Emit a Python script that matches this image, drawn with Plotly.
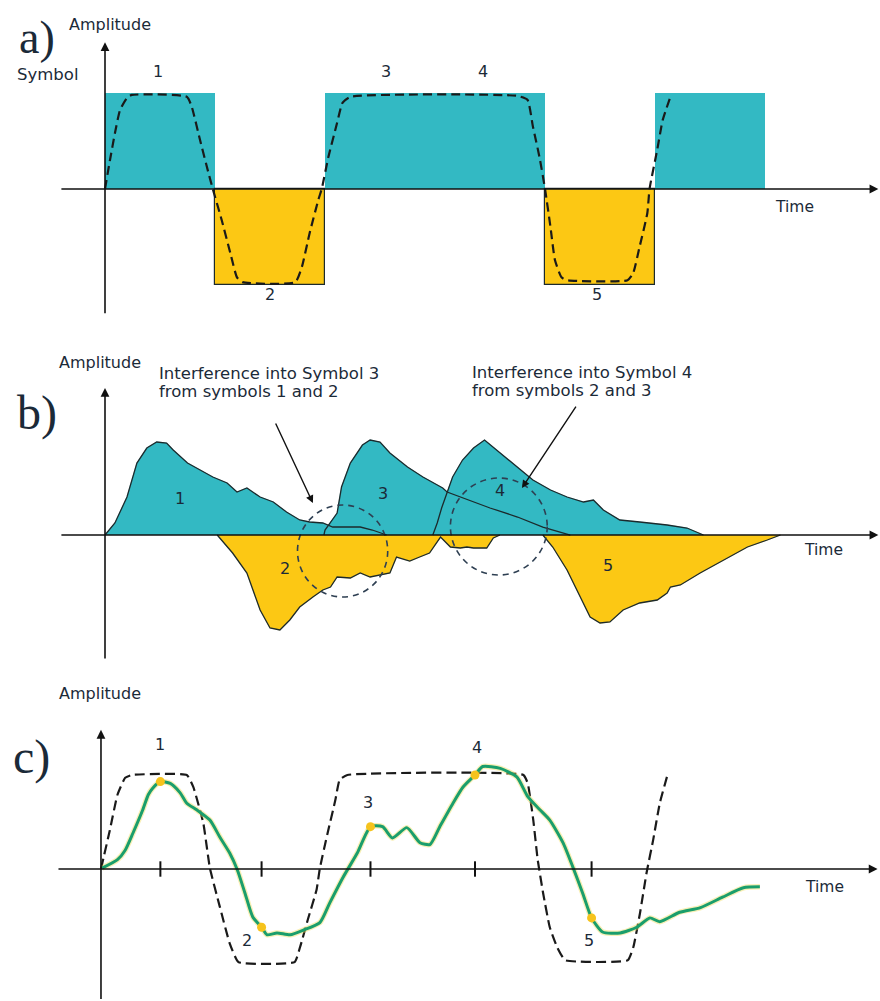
import plotly.graph_objects as go

# ---------------- data ----------------
# a) transmitted symbols (one per symbol period)
symbol_t = [0.5, 1.5, 2.5, 3.5, 4.5, 5.5]
symbol_val = [1, -1, 1, 1, -1, 1]

# a) band-limited pulse train (dashed)
pulse_a_t = [0, 0.045, 0.09, 0.136, 0.2, 0.245, 0.745, 0.79, 0.864, 0.94, 0.98,
             1.06, 1.14, 1.2, 1.25, 1.73, 1.79, 1.86, 1.94, 1.97, 2.03, 2.11, 2.16, 2.23,
             3.75, 3.84, 3.89, 3.95, 4.0, 4.05, 4.09, 4.15, 4.2, 4.75, 4.8, 4.86, 4.93,
             4.95, 5.02, 5.07, 5.14]
pulse_a_y = [0, 0.30, 0.58, 0.82, 0.95, 0.98, 0.96, 0.85, 0.51, 0.17, 0,
             -0.32, -0.67, -0.92, -0.97, -0.97, -0.81, -0.46, -0.11, 0, 0.33, 0.69, 0.9, 0.96,
             0.97, 0.93, 0.65, 0.33, 0, -0.40, -0.74, -0.92, -0.95, -0.95, -0.88, -0.6, -0.25,
             0, 0.41, 0.72, 0.96]

# b) dispersed symbol responses
b1_t = [0, 0.09, 0.2, 0.29, 0.38, 0.47, 0.56, 0.62, 0.75, 0.86, 0.98, 1.11, 1.2, 1.29,
        1.41, 1.53, 1.65, 1.77, 1.86, 1.98, 2.07, 2.32, 2.43, 2.56]
b1_y = [0, 0.12, 0.38, 0.72, 0.87, 0.93, 0.92, 0.85, 0.72, 0.65, 0.58, 0.52, 0.43, 0.47,
        0.38, 0.33, 0.23, 0.15, 0.13, 0.12, 0.08, 0.08, 0.05, 0]
b2_t = [1.02, 1.16, 1.29, 1.41, 1.5, 1.59, 1.68, 1.77, 1.89, 1.98, 2.05, 2.11, 2.23, 2.32,
        2.41, 2.5, 2.59, 2.65, 2.77, 2.86, 2.95, 3.05, 3.14, 3.23, 3.29, 3.35, 3.47, 3.53, 3.59]
b2_y = [0, -0.18, -0.38, -0.75, -0.93, -0.95, -0.85, -0.72, -0.62, -0.55, -0.52, -0.42,
        -0.43, -0.38, -0.42, -0.4, -0.38, -0.22, -0.26, -0.22, -0.18, -0.02, -0.12, -0.13,
        -0.12, -0.13, -0.13, -0.03, 0]
b3_t = [1.99, 2.0, 2.11, 2.15, 2.23, 2.34, 2.41, 2.5, 2.59, 2.75, 2.89, 3.07, 3.11, 3.25,
        3.5, 3.75, 3.98, 4.23]
b3_y = [0, 0.05, 0.22, 0.48, 0.72, 0.9, 0.95, 0.93, 0.82, 0.68, 0.58, 0.47, 0.43, 0.37,
        0.27, 0.18, 0.08, 0]
b4_t = [2.98, 3.02, 3.06, 3.11, 3.16, 3.25, 3.35, 3.45, 3.56, 3.71, 3.89, 4.05, 4.2, 4.35,
        4.44, 4.53, 4.68, 4.86, 5.11, 5.29, 5.44]
b4_y = [0, 0.12, 0.27, 0.43, 0.58, 0.75, 0.87, 0.95, 0.85, 0.72, 0.55, 0.45, 0.38, 0.33,
        0.35, 0.25, 0.15, 0.13, 0.1, 0.07, 0]
b5_t = [3.98, 4.07, 4.2, 4.32, 4.41, 4.5, 4.59, 4.71, 4.86, 5.02, 5.11, 5.14, 5.23, 5.41,
        5.62, 5.84, 6.02, 6.14]
b5_y = [0, -0.12, -0.35, -0.62, -0.82, -0.88, -0.87, -0.75, -0.68, -0.65, -0.58, -0.52,
        -0.5, -0.38, -0.25, -0.12, -0.05, 0]

# b) interference regions: (centre t, centre y, radius t, radius y)
ring_1 = (2.16, -0.16, 0.41, 0.46)
ring_2 = (3.58, 0.085, 0.44, 0.485)

# c) ideal pulse train (dashed) and received signal (green)
pulse_c_t = [0, 0.08, 0.15, 0.22, 0.28, 0.78, 0.84, 0.93, 0.99, 1.08, 1.17, 1.25,
             1.76, 1.81, 1.88, 1.96, 1.99, 2.06, 2.13, 2.17, 2.24, 3.84, 3.88, 3.93, 3.97,
             4.02, 4.08, 4.15, 4.22, 4.79, 4.84, 4.9, 4.96, 5.02, 5.08, 5.15]
pulse_c_y = [0, 0.41, 0.79, 0.97, 1.0, 1.0, 0.87, 0.49, 0.01, -0.40, -0.79, -0.99,
             -0.99, -0.83, -0.54, -0.22, 0.01, 0.38, 0.73, 0.95, 1.0, 1.0, 0.91, 0.52, 0.1,
             -0.26, -0.62, -0.84, -0.97, -0.97, -0.83, -0.47, -0.04, 0.31, 0.70, 1.0]
rx_t = [0.01, 0.15, 0.22, 0.29, 0.38, 0.43, 0.47, 0.54, 0.63, 0.72, 0.78, 0.87, 0.99, 1.08,
        1.17, 1.24, 1.31, 1.38, 1.46, 1.51, 1.6, 1.72, 1.84, 1.99, 2.08, 2.2, 2.33, 2.45,
        2.56, 2.65, 2.78, 2.9, 2.99, 3.08, 3.2, 3.29, 3.4, 3.47, 3.63, 3.78, 3.88, 3.99,
        4.08, 4.2, 4.29, 4.38, 4.46, 4.56, 4.72, 4.87, 4.99, 5.08, 5.26, 5.45, 5.65, 5.84, 5.99]
rx_y = [0.01, 0.1, 0.2, 0.38, 0.63, 0.79, 0.86, 0.93, 0.91, 0.81, 0.70, 0.63, 0.52, 0.34,
        0.17, -0.01, -0.26, -0.51, -0.62, -0.70, -0.68, -0.70, -0.65, -0.57, -0.36, -0.09,
        0.17, 0.45, 0.45, 0.33, 0.44, 0.28, 0.26, 0.45, 0.70, 0.87, 1.0, 1.09, 1.07, 0.98,
        0.77, 0.63, 0.52, 0.28, 0.02, -0.26, -0.52, -0.67, -0.68, -0.62, -0.52, -0.56,
        -0.46, -0.41, -0.30, -0.20, -0.19]
sample_t = [0.54, 1.46, 2.45, 3.4, 4.46]
sample_y = [0.93, -0.62, 0.45, 1.0, -0.52]

# ---------------- styles ----------------
CYAN = "#33b9c3"
YELLOW = "#fcc814"
OUTLINE = "#1c2a2c"
TEXT = "#1b2a38"
AX = "#111111"
GREEN = "#1a9e6c"
DOT = "#f6c31c"
SANS = "DejaVu Sans, Verdana, sans-serif"
SERIF = "Liberation Serif, DejaVu Serif, serif"

fig = go.Figure()

# ---- panel a ----
fig.add_trace(go.Bar(
    x=symbol_t, y=symbol_val, width=1,
    marker=dict(color=[CYAN if v > 0 else YELLOW for v in symbol_val],
                line=dict(color=OUTLINE, width=[0 if v > 0 else 1.2 for v in symbol_val])),
    xaxis="x", yaxis="y", hoverinfo="skip"))
fig.add_trace(go.Scatter(
    x=pulse_a_t, y=pulse_a_y, mode="lines",
    line=dict(color="#1a1a1a", width=2.2, dash="9px,5px", shape="spline", smoothing=0.5),
    xaxis="x", yaxis="y"))

# ---- panel b ----
for t, y, col in [(b2_t, b2_y, YELLOW), (b5_t, b5_y, YELLOW),
                  (b1_t, b1_y, CYAN), (b3_t, b3_y, CYAN), (b4_t, b4_y, CYAN)]:
    fig.add_trace(go.Scatter(x=t, y=y, mode="lines", fill="toself", fillcolor=col,
                             line=dict(color=col, width=0.5), xaxis="x2", yaxis="y2"))
for t, y in [(b2_t, b2_y), (b5_t, b5_y), (b1_t, b1_y), (b3_t, b3_y), (b4_t, b4_y)]:
    fig.add_trace(go.Scatter(x=t, y=y, mode="lines",
                             line=dict(color=OUTLINE, width=1.3), xaxis="x2", yaxis="y2"))

# ---- panel c ----
fig.add_trace(go.Scatter(
    x=pulse_c_t, y=pulse_c_y, mode="lines",
    line=dict(color="#1a1a1a", width=2.2, dash="10px,5px", shape="spline", smoothing=0.4),
    xaxis="x3", yaxis="y3"))
fig.add_trace(go.Scatter(
    x=rx_t, y=rx_y, mode="lines",
    line=dict(color="rgba(240,220,90,0.45)", width=5.5, shape="spline", smoothing=0.6),
    xaxis="x3", yaxis="y3"))
fig.add_trace(go.Scatter(
    x=rx_t, y=rx_y, mode="lines",
    line=dict(color=GREEN, width=3, shape="spline", smoothing=0.6),
    xaxis="x3", yaxis="y3"))
fig.add_trace(go.Scatter(
    x=sample_t, y=[0] * len(sample_t), mode="markers",
    marker=dict(symbol="line-ns", size=11, line=dict(color=AX, width=2)),
    xaxis="x3", yaxis="y3"))
fig.add_trace(go.Scatter(
    x=sample_t, y=sample_y, mode="markers",
    marker=dict(color=DOT, size=9, line=dict(width=0)),
    xaxis="x3", yaxis="y3"))

# ---------------- annotations ----------------
def arrow(ax_, ay_, x0, y0, x1, y1, w=1.6):
    return dict(xref=ax_, yref=ay_, axref=ax_, ayref=ay_, x=x1, y=y1, ax=x0, ay=y0,
                text="", showarrow=True, arrowhead=2, arrowsize=1.1, arrowwidth=w,
                arrowcolor=AX, standoff=0)

def label(ax_, ay_, x, y, txt, size=16, font=SANS, xanchor="center"):
    return dict(xref=ax_, yref=ay_, x=x, y=y, text=txt, showarrow=False,
                xanchor=xanchor, yanchor="middle",
                font=dict(family=font, size=size, color=TEXT))

ann = []
# axes
ann += [arrow("x", "y", -0.41, 0, 7.03, 0), arrow("x", "y", 0, -1.31, 0, 1.53)]
ann += [arrow("x2", "y2", -0.41, 0, 7.03, 0), arrow("x2", "y2", 0, -1.25, 0, 1.47)]
ann += [arrow("x3", "y3", -0.40, 0, 7.06, 0), arrow("x3", "y3", 0, -1.40, 0, 1.48)]
# pointer arrows in b
ann += [arrow("x2", "y2", 1.545, 1.13, 1.89, 0.32, w=1.4),
        arrow("x2", "y2", 4.29, 1.30, 3.79, 0.47, w=1.4)]

# panel a text
ann += [label("x", "y", -0.62, 1.58, "a)", size=46, font=SERIF),
        label("x", "y", 0.045, 1.71, "Amplitude"),
        label("x", "y", -0.527, 1.19, "Symbol", size=16.5),
        label("x", "y", 0.48, 1.22, "1"), label("x", "y", 1.5, -1.10, "2"),
        label("x", "y", 2.55, 1.22, "3"), label("x", "y", 3.44, 1.22, "4"),
        label("x", "y", 4.47, -1.10, "5"), label("x", "y", 6.27, -0.19, "Time", size=15.5)]
# panel b text
ann += [label("x2", "y2", -0.62, 1.22, "b)", size=48, font=SERIF),
        label("x2", "y2", -0.045, 1.73, "Amplitude"),
        label("x2", "y2", 0.473, 1.62, "Interference into Symbol 3", size=16.5, xanchor="left"),
        label("x2", "y2", 0.473, 1.44, "from symbols 1 and 2", size=16.5, xanchor="left"),
        label("x2", "y2", 3.32, 1.63, "Interference into Symbol 4", size=16.5, xanchor="left"),
        label("x2", "y2", 3.32, 1.45, "from symbols 2 and 3", size=16.5, xanchor="left"),
        label("x2", "y2", 0.68, 0.37, "1"), label("x2", "y2", 1.64, -0.33, "2"),
        label("x2", "y2", 2.53, 0.42, "3"), label("x2", "y2", 3.59, 0.45, "4"),
        label("x2", "y2", 4.57, -0.30, "5"), label("x2", "y2", 6.53, -0.15, "Time", size=15.5)]
# panel c text
ann += [label("x3", "y3", -0.63, 1.19, "c)", size=48, font=SERIF),
        label("x3", "y3", -0.01, 1.87, "Amplitude"),
        label("x3", "y3", 0.54, 1.32, "1"), label("x3", "y3", 1.33, -0.76, "2"),
        label("x3", "y3", 2.43, 0.71, "3"), label("x3", "y3", 3.42, 1.29, "4"),
        label("x3", "y3", 4.44, -0.76, "5"), label("x3", "y3", 6.58, -0.19, "Time", size=15.5)]

shapes = []
for cx, cy, rx, ry in [ring_1, ring_2]:
    shapes.append(dict(type="circle", xref="x2", yref="y2",
                       x0=cx - rx, x1=cx + rx, y0=cy - ry, y1=cy + ry,
                       line=dict(color="#2e3f52", width=1.6, dash="6px,5px")))

hidden = dict(showgrid=False, zeroline=False, showline=False, showticklabels=False,
              ticks="", fixedrange=True)
fig.update_layout(
    width=880, height=1001, margin=dict(l=0, r=0, t=0, b=0),
    paper_bgcolor="white", plot_bgcolor="rgba(0,0,0,0)", showlegend=False,
    xaxis=dict(domain=[0, 1], range=[-0.9545, 7.045], anchor="y", **hidden),
    yaxis=dict(domain=[0.6703, 1], range=[-1.469, 1.969], anchor="x", **hidden),
    xaxis2=dict(domain=[0, 1], range=[-0.9545, 7.045], anchor="y2", **hidden),
    yaxis2=dict(domain=[0.34066, 0.6703], range=[-1.25, 2.05], anchor="x2", **hidden),
    xaxis3=dict(domain=[0, 1], range=[-0.918, 7.082], anchor="y3", **hidden),
    yaxis3=dict(domain=[0, 0.34066], range=[-1.404, 2.223], anchor="x3", **hidden),
    annotations=ann, shapes=shapes, bargap=0,
)

fig.write_html("out.html", config={"displayModeBar": False},
               post_script="document.body.style.margin='0';document.body.style.padding='0';")
